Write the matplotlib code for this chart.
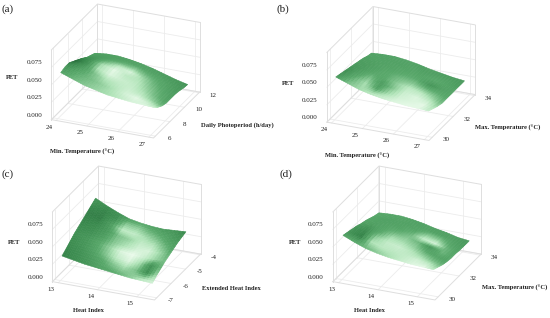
import matplotlib
matplotlib.use('Agg')
import matplotlib.pyplot as plt
import numpy as np
from matplotlib.colors import LinearSegmentedColormap
from mpl_toolkits.mplot3d import proj3d

plt.rcParams['font.family'] = ['Liberation Serif', 'DejaVu Serif']

W_PX, H_PX = 550, 318

# surface heights (PET), rows go front -> back along the depth axis
z_a = [[.062, .056, .050, .046, .042, .040, .038, .037, .036],
       [.064, .058, .052, .047, .043, .040, .037, .033, .030],
       [.064, .060, .054, .048, .044, .040, .036, .031, .026],
       [.060, .060, .055, .049, .045, .040, .035, .030, .024],
       [.056, .058, .055, .050, .045, .040, .035, .029, .024],
       [.052, .054, .053, .049, .044, .039, .034, .029, .024],
       [.047, .050, .050, .047, .042, .037, .033, .028, .023],
       [.044, .046, .046, .044, .040, .035, .031, .026, .021],
       [.041, .043, .043, .041, .038, .034, .029, .024, .020]]
shade_a = [[.45, .55, .62, .68, .74, .82, .90, .92, .85],
           [.35, .50, .58, .66, .75, .88, .95, .85, .65],
           [.20, .40, .60, .75, .80, .85, .80, .65, .50],
           [.12, .30, .75, .92, .85, .82, .70, .55, .42],
           [.18, .35, .72, .95, .80, .78, .62, .50, .40],
           [.28, .38, .55, .80, .90, .70, .55, .45, .38],
           [.36, .40, .45, .55, .65, .55, .48, .42, .36],
           [.42, .42, .42, .44, .46, .44, .42, .38, .34],
           [.44, .44, .42, .42, .42, .40, .38, .36, .30]]

z_b = [[.060, .054, .048, .044, .041, .039, .037, .036, .035],
       [.058, .056, .050, .045, .042, .039, .036, .034, .032],
       [.056, .056, .051, .046, .042, .039, .035, .032, .029],
       [.054, .055, .051, .047, .043, .039, .035, .031, .027],
       [.052, .053, .051, .047, .043, .039, .035, .031, .027],
       [.050, .051, .050, .046, .042, .038, .034, .030, .027],
       [.048, .049, .048, .045, .041, .037, .034, .030, .027],
       [.045, .046, .046, .043, .040, .036, .033, .030, .027],
       [.043, .044, .044, .042, .039, .035, .032, .029, .027]]
shade_b = [[.40, .60, .72, .78, .85, .92, .95, .95, .80],
           [.32, .50, .72, .45, .70, .88, .92, .95, .72],
           [.30, .42, .60, .40, .62, .85, .92, .85, .62],
           [.34, .40, .48, .50, .65, .80, .80, .68, .52],
           [.38, .40, .44, .50, .58, .62, .55, .52, .48],
           [.40, .42, .44, .46, .50, .50, .35, .42, .46],
           [.42, .44, .44, .44, .46, .46, .48, .46, .42],
           [.44, .44, .44, .44, .44, .42, .42, .42, .38],
           [.44, .44, .44, .44, .42, .42, .40, .38, .34]]

z_c = [[.033, .030, .027, .025, .023, .021, .019, .018, .017],
       [.038, .034, .031, .028, .026, .024, .023, .022, .022],
       [.043, .038, .034, .031, .029, .027, .026, .026, .026],
       [.048, .042, .038, .034, .032, .030, .029, .029, .030],
       [.052, .046, .041, .037, .034, .032, .032, .032, .033],
       [.056, .050, .044, .040, .037, .035, .034, .035, .036],
       [.060, .053, .047, .042, .039, .037, .037, .037, .039],
       [.064, .057, .050, .045, .041, .039, .039, .040, .041],
       [.068, .060, .053, .047, .044, .042, .041, .042, .043]]
shade_c = [[.22, .28, .34, .42, .48, .55, .65, .80, .88],
           [.25, .30, .38, .48, .62, .72, .60, .30, .75],
           [.28, .34, .45, .62, .82, .92, .70, .32, .60],
           [.30, .36, .48, .68, .92, .98, .85, .68, .55],
           [.26, .30, .42, .62, .75, .88, .90, .70, .48],
           [.22, .26, .38, .60, .68, .82, .78, .58, .40],
           [.20, .20, .42, .80, .82, .72, .60, .45, .36],
           [.28, .22, .30, .62, .66, .55, .46, .38, .30],
           [.34, .28, .30, .38, .44, .42, .36, .32, .22]]

z_d = [[.062, .055, .049, .045, .042, .040, .038, .037, .036],
       [.060, .056, .051, .046, .043, .040, .037, .035, .033],
       [.058, .057, .052, .047, .043, .040, .036, .033, .030],
       [.056, .056, .052, .048, .044, .040, .036, .032, .028],
       [.053, .054, .052, .048, .044, .040, .036, .032, .027],
       [.051, .052, .051, .047, .043, .039, .035, .031, .027],
       [.048, .049, .049, .046, .042, .038, .034, .030, .026],
       [.045, .046, .046, .044, .040, .036, .033, .029, .026],
       [.043, .044, .044, .042, .039, .035, .032, .028, .026]]
shade_d = [[.42, .48, .58, .66, .74, .84, .92, .95, .75],
           [.32, .22, .75, .80, .80, .82, .88, .80, .60],
           [.32, .25, .65, .82, .85, .78, .70, .58, .50],
           [.36, .35, .50, .72, .72, .65, .50, .45, .46],
           [.42, .42, .46, .55, .62, .55, .35, .55, .46],
           [.46, .44, .44, .46, .55, .82, .88, .55, .44],
           [.46, .44, .44, .44, .46, .62, .62, .46, .42],
           [.48, .46, .46, .44, .44, .44, .44, .42, .38],
           [.48, .46, .46, .44, .44, .42, .42, .40, .34]]

x_ticks_a = [24, 25, 26, 27]
y_ticks_a = [6, 8, 10, 12]
y_ticks_b = [30, 32, 34]
x_ticks_c = [13, 14, 15]
y_ticks_c = [-7, -6, -5, -4]
z_ticks = [0.0, 0.025, 0.05, 0.075]

green = LinearSegmentedColormap.from_list(
    'green', ['#1c5a30', '#3a8a4e', '#5aaa6c', '#b0e4b8', '#f0fdf0'])

fig = plt.figure(figsize=(W_PX / 100, H_PX / 100), dpi=100)


def px_text(x, y, s, **kw):
    fig.text(x / W_PX, 1 - y / H_PX, s, **kw)


def split_faces(z, shade, n=4):
    # same facets, cut smaller, so the shading can blend across them
    z = np.array(z)
    shade = np.array(shade)
    old = np.arange(z.shape[0])
    new = np.linspace(0, z.shape[0] - 1, (z.shape[0] - 1) * n + 1)
    def up(a):
        a = np.array([np.interp(new, old, r) for r in a])
        return np.array([np.interp(new, old, c) for c in a.T]).T
    return up(z), up(shade), new / (z.shape[0] - 1)


def panel(cx, cy, xlim, ylim, xdom, ydom, z, shade, xticks, yticks):
    size = 174
    left = cx - 0.5135 * size
    bottom = H_PX - cy - 0.5135 * size
    ax = fig.add_axes([left / W_PX, bottom / H_PX, size / W_PX, size / H_PX],
                      projection='3d', proj_type='ortho', computed_zorder=False)
    ax.set_box_aspect((111, 118, 77))
    ax.view_init(elev=25, azim=-67)
    ax.set_xlim(xlim)
    ax.set_ylim(ylim)
    ax.set_zlim(0, 0.1)
    ax.set_axis_off()
    ax.patch.set_alpha(0)

    grid = dict(color='#ececec', lw=0.6, zorder=1)
    edge = dict(color='#dedede', lw=0.7, zorder=2)
    for t in xticks:
        ax.plot([t, t], ylim, [0, 0], **grid)
        ax.plot([t, t], [ylim[1]] * 2, [0, 0.1], **grid)
    for t in yticks:
        ax.plot(xlim, [t, t], [0, 0], **grid)
        ax.plot([xlim[0]] * 2, [t, t], [0, 0.1], **grid)
    for t in z_ticks:
        ax.plot([xlim[0]] * 2, ylim, [t, t], **grid)
        ax.plot(xlim, [ylim[1]] * 2, [t, t], **grid)
    ax.plot([xlim[0], xlim[1], xlim[1]], [ylim[0], ylim[0], ylim[1]], [0, 0, 0], **edge)
    ax.plot([xlim[1], xlim[0], xlim[0]], [ylim[1], ylim[1], ylim[0]], [0, 0, 0], **edge)
    ax.plot([xlim[0], xlim[0], xlim[1]], [ylim[0], ylim[1], ylim[1]], [0.1, 0.1, 0.1], **edge)
    ax.plot([xlim[0]] * 2, [ylim[0]] * 2, [0, 0.1], **edge)
    ax.plot([xlim[0]] * 2, [ylim[1]] * 2, [0, 0.1], **edge)
    ax.plot([xlim[1]] * 2, [ylim[1]] * 2, [0, 0.1], **edge)

    zz, ss, f = split_faces(z, shade)
    X, Y = np.meshgrid(xdom[0] + f * (xdom[1] - xdom[0]), ydom[0] + f * (ydom[1] - ydom[0]))
    surf = ax.plot_surface(X, Y, zz, facecolors=green(ss), rstride=1, cstride=1, shade=False,
                           linewidth=0.4, antialiased=True, zorder=5)
    # edges in the face colour close the hairline gaps between facets
    surf.set_edgecolor(green(ss[:-1, :-1]).reshape(-1, 4))

    # 3d text gets reported off the canvas, so project the tick spots first
    M = ax.get_proj()

    def tick_text(x, y, z, s, **kw):
        px, py, _ = proj3d.proj_transform(x, y, z, M)
        ax.text2D(px, py, s, transform=ax.transData, fontsize=5, color='#222222', va='center', **kw)

    xr = xlim[1] - xlim[0]
    yr = ylim[1] - ylim[0]
    for t in xticks:
        tick_text(t, ylim[0] - 0.15 * yr, 0, str(t), ha='center')
    for t in yticks:
        tick_text(xlim[1] + 0.14 * xr, t, 0, str(t), ha='center')
    for t in z_ticks:
        tick_text(xlim[0] - 0.09 * xr, ylim[0], t + 0.004, '%.3f' % t, ha='right')
    return ax


panel(125.5, 71, (23.85, 27.15), (5.75, 12.1), (24, 27), (6.39, 11.1), z_a, shade_a, x_ticks_a, y_ticks_a)
panel(401, 73.5, (23.85, 27.15), (29.7, 34.1), (24, 27), (30.1, 33.53), z_b, shade_b, x_ticks_a, y_ticks_b)
panel(126.5, 233, (12.85, 15.45), (-7.15, -3.95), (13, 15.3), (-6.89, -4.56), z_c, shade_c, x_ticks_c, y_ticks_c)
panel(407, 233, (12.85, 15.45), (29.7, 34.1), (13, 15.3), (30.1, 33.53), z_d, shade_d, x_ticks_c, y_ticks_b)

lab = dict(fontsize=4.7, fontweight='bold', color='#222222', ha='center', va='center')
px_text(82, 152, 'Min. Temperature (\u00b0C)', **lab)
px_text(237, 125, 'Daily Photoperiod (h/day)', **lab)
px_text(12, 78, 'PET', **lab)
px_text(357, 156, 'Min. Temperature (\u00b0C)', **lab)
px_text(508, 128, 'Max. Temperature (\u00b0C)', **lab)
px_text(288, 83, 'PET', **lab)
px_text(88, 311, 'Heat Index', **lab)
px_text(231, 288, 'Extended Heat Index', **lab)
px_text(14, 243, 'PET', **lab)
px_text(369, 311, 'Heat Index', **lab)
px_text(515, 288, 'Max. Temperature (\u00b0C)', **lab)
px_text(295, 243, 'PET', **lab)

let = dict(fontsize=8, color='#222222', ha='center', va='center')
px_text(8, 9, '(a)', **let)
px_text(283, 9, '(b)', **let)
px_text(8, 174, '(c)', **let)
px_text(286, 174, '(d)', **let)

fig.savefig('out.png', dpi=100)
